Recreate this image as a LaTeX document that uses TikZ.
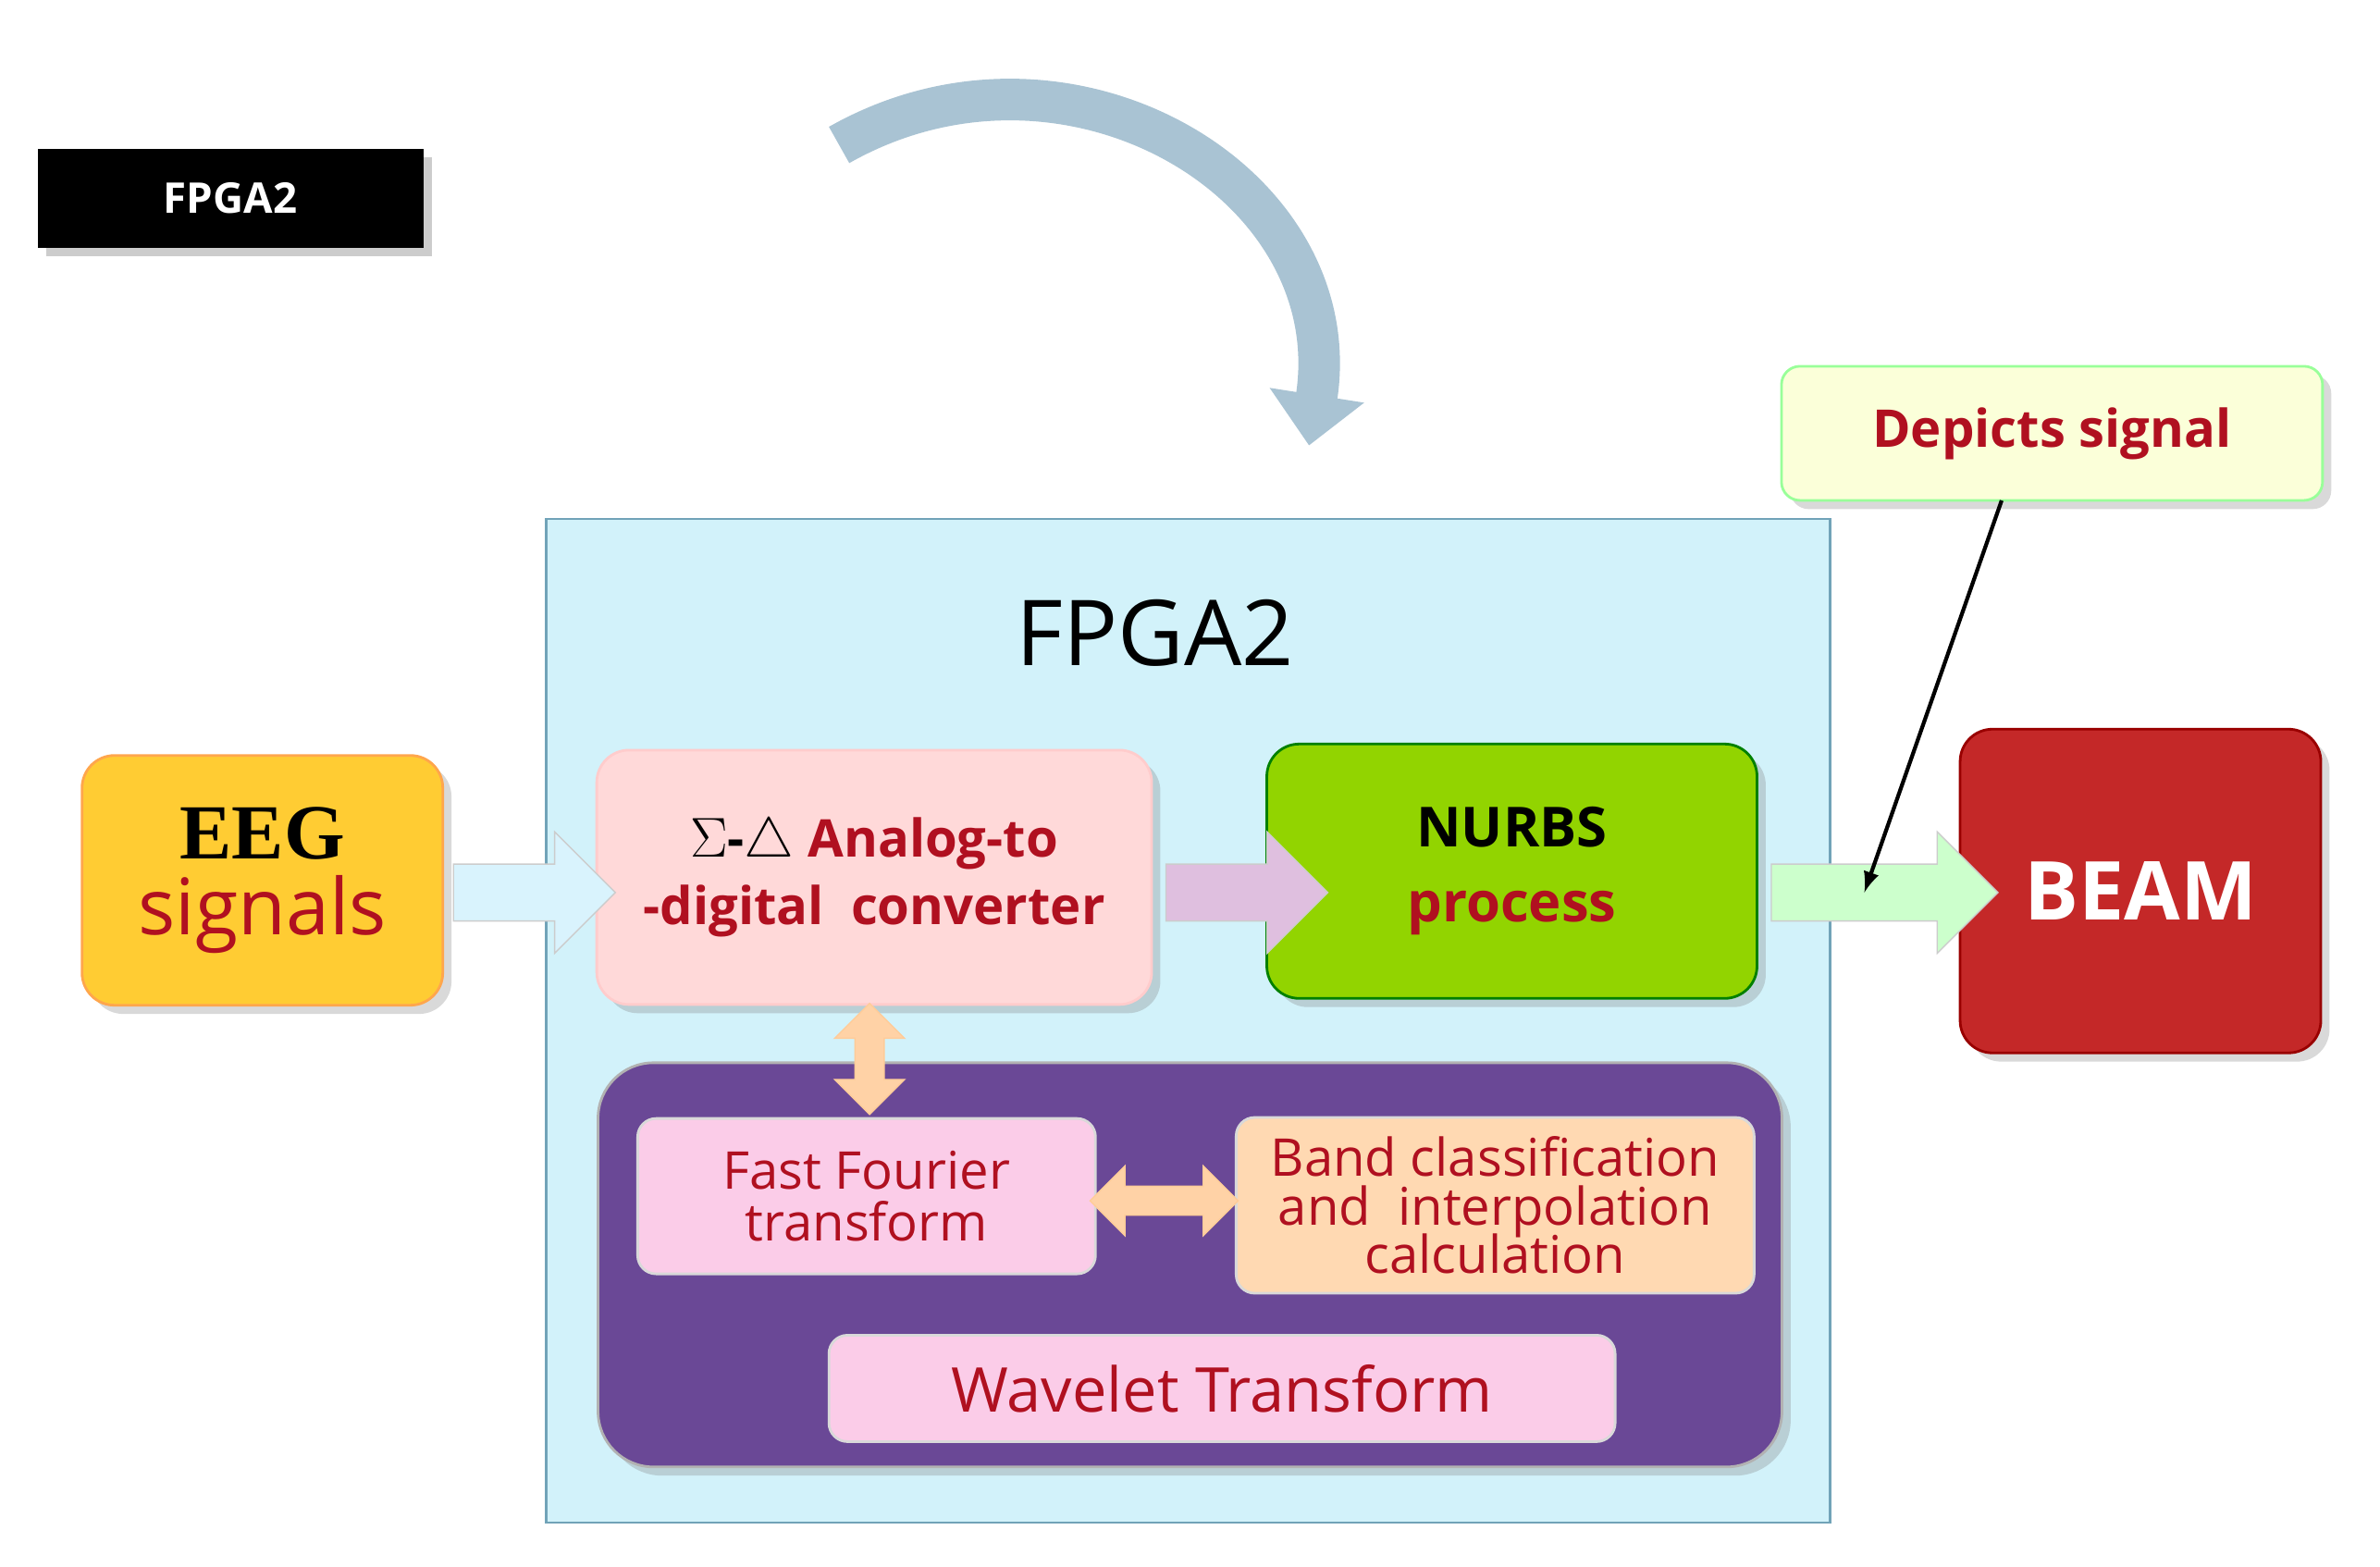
\documentclass[tikz,border=0pt]{standalone}
\usepackage{fontspec}
\setmainfont{Open Sans}
\newfontfamily\serifbold{Liberation Serif}
\usetikzlibrary{arrows,arrows.meta,calc,shapes,shapes.arrows,shadows}
\tikzset{>=latex}
\definecolor{darkred}{HTML}{B01020}
\definecolor{boxblue}{HTML}{D2F2FA}
\definecolor{boxpurple}{HTML}{6A4896}
\definecolor{curvecol}{HTML}{A9C3D3}
\definecolor{nurbsgreen}{HTML}{92D400}
\definecolor{beamred}{HTML}{C42828}
\tikzstyle{block}=[rectangle,rounded corners=0.35cm,thick,drop shadow={opacity=0.3},align=center]
\tikzstyle{inner}=[rectangle,rounded corners=0.2cm,thick,draw=white!70!gray,align=center,text=darkred,font=\fontsize{16}{18}\selectfont]
\tikzstyle{fatarrow}=[single arrow,single arrow head extend=0.35cm,minimum height=1.75cm,inner xsep=0pt,inner ysep=0.3cm,draw=gray!40]
\tikzstyle{fatdouble}=[double arrow,double arrow head extend=0.22cm,inner xsep=0pt,inner ysep=0.15cm,draw=orange!40,fill=orange!35]

\begin{document}
\begin{tikzpicture}[x=0.01649cm,y=-0.01649cm]
\useasboundingbox (0,0) rectangle (1560,1027);

\node[fill=black,text=white,font=\bfseries\fontsize{13}{15}\selectfont,minimum width=4.17cm,minimum height=1.07cm,drop shadow={opacity=0.4}] (tag) at (151,130) {FPGA2};

% curved arrow
\coordinate (c1) at (550,95);
\coordinate (c2) at (858,292);
\draw[line width=0.45cm,color=curvecol,-{Triangle[length=0.55cm,width=1.0cm]}] (c1) .. controls (700,10) and (885,120) .. (c2);

\node[draw=cyan!40!gray,fill=boxblue,thick,minimum width=13.88cm,minimum height=10.85cm] (fpga) at (779,669) {};
\node[font=\fontsize{28}{32}\selectfont] (title) at (757,415) {FPGA2};

\node[block,draw=orange!70,fill=orange!50!yellow!80,minimum width=3.9cm,minimum height=2.7cm] (eeg) at (172,577)
  {{\serifbold\bfseries\fontsize{24}{26}\selectfont EEG}\\[4pt]{\color{darkred}\fontsize{24}{26}\selectfont signals}};

\node[block,draw=red!20,fill=red!15,minimum width=6cm,minimum height=2.75cm,font=\bfseries\fontsize{16}{21}\selectfont] (adc) at (573,575)
  {$\Sigma$-$\triangle$ {\color{darkred}Analog-to}\\{\color{darkred}-digital\ \ converter}};

\node[block,draw=green!50!black,fill=nurbsgreen,minimum width=5.3cm,minimum height=2.75cm,font=\bfseries\fontsize{17}{23}\selectfont] (nurbs) at (991,571)
  {NURBS\\{\color{darkred}process}};

\node[block,draw=red!60!black,fill=beamred,text=white,minimum width=3.9cm,minimum height=3.5cm,font=\bfseries\fontsize{25}{30}\selectfont] (beam) at (1403,584) {BEAM};

\node[block,rounded corners=0.2cm,draw=green!40,fill=green!10!yellow!15,minimum width=5.85cm,minimum height=1.45cm,text=darkred,font=\bfseries\fontsize{16}{20}\selectfont] (depict) at (1345,284) {Depicts signal};

\node[fatarrow,fill=cyan!15] (a1) at (341,585) {};
\node[fatarrow,fill=violet!25] (a2) at (808,585) {};
\node[fatarrow,fill=green!20,minimum height=2.45cm] (a3) at (1226,585) {};

\coordinate (hit) at (1222,585);
\coordinate (dep) at (1312,328);
\draw[->,line width=1.2pt] (dep) -- (hit);

\node[rectangle,rounded corners=0.6cm,draw=gray!60,fill=boxpurple,thick,minimum width=12.8cm,minimum height=4.37cm,drop shadow={opacity=0.3}] (algo) at (780,829) {};

\node[inner,fill=magenta!20,minimum width=4.95cm,minimum height=1.68cm] (fft) at (568,784) {Fast Fourier\\[-2pt]transform};
\node[inner,fill=orange!30,minimum width=5.6cm,minimum height=1.9cm] (band) at (980,790) {Band classification\\[-3pt]and\ \ interpolation\\[-3pt]calculation};
\node[inner,fill=magenta!20,minimum width=8.5cm,minimum height=1.15cm,font=\fontsize{19}{22}\selectfont] (wave) at (801,910) {Wavelet Transform};

\node[fatdouble,rotate=90,minimum height=1.2cm] (d1) at (570,694) {};
\node[fatdouble,minimum height=1.6cm] (d2) at (763,787) {};

\end{tikzpicture}
\end{document}
